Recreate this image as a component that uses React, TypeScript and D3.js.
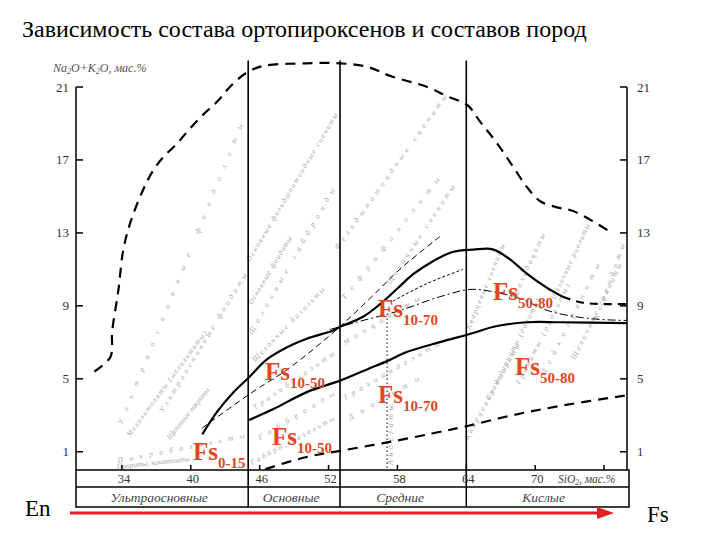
import React from "react";
import * as d3 from "d3";

// ---------- data ----------
const TITLE = "Зависимость состава ортопироксенов и составов пород";
const SIO2_TICKS = [34, 40, 46, 52, 58, 64, 70, 76];
const SIO2_LABELS = ["34", "40", "46", "52", "58", "64", "70", ""];
const ALK_TICKS = [1, 5, 9, 13, 17, 21];
const GROUP_NAMES = ["Ультраосновные", "Основные", "Средние", "Кислые"];
const GROUP_EDGES = [30, 45, 53, 64, 78];
const DIVIDERS = [45, 53, 64];
const ANDESITE_SIO2 = 57.1;

// outer dashed envelope
const envelopeSiO2 = [31.6, 33.0, 33.15, 33.7, 34.1, 34.7, 35.8, 36.7, 37.6, 38.8, 39.9, 41.1, 42.3, 43.4, 44.9, 46.3, 50.1, 53.0, 55.4, 57.4, 60.6, 62.3, 64.1, 65.2, 66.7, 68.1, 69.3, 70.4, 71.9, 73.3, 75.0, 76.8];
const envelopeAlk = [5.4, 6.2, 7.6, 9.9, 12.0, 13.5, 15.3, 16.4, 17.15, 17.9, 18.7, 19.5, 20.2, 21.0, 21.8, 22.15, 22.3, 22.3, 22.1, 21.6, 21.0, 20.5, 20.0, 19.1, 17.9, 16.6, 15.5, 14.75, 14.4, 14.2, 13.65, 12.95];

// lower dashed boundary
const lowerDashSiO2 = [46.5, 50, 53, 57, 61, 64, 68, 72.5, 78];
const lowerDashAlk = [0.05, 0.7, 1.05, 1.5, 2.0, 2.4, 3.0, 3.55, 4.1];

// upper solid boundary
const upperSolidSiO2 = [41.0, 42.3, 43.7, 45.1, 46.6, 48.6, 50.1, 52.4, 53.0, 55.0, 56.5, 58.0, 59.4, 61.1, 62.8, 64.6, 66.3, 67.8, 69.3, 71.0, 72.4];
const upperSolidAlk = [1.95, 3.2, 4.25, 5.1, 6.05, 6.8, 7.2, 7.65, 7.85, 8.4, 9.1, 9.95, 10.75, 11.45, 11.95, 12.08, 12.1, 11.55, 10.75, 10.0, 9.5];
const upperTailSiO2 = [72.4, 73.9, 75.6, 78];
const upperTailAlk = [9.5, 9.2, 9.1, 9.1];

// lower solid boundary
const lowerSolidSiO2 = [45.07, 47.2, 50.1, 53.0, 55.4, 57.1, 58.8, 61.7, 64.6, 66.3, 69.3, 72.2, 78];
const lowerSolidAlk = [2.74, 3.34, 4.27, 4.9, 5.53, 5.97, 6.47, 7.01, 7.51, 7.84, 8.1, 8.1, 8.05];

// thin dashed line
const thinDashSiO2 = [41.0, 45.2, 48.6, 52.7, 55.6, 58.2, 61.7];
const thinDashAlk = [2.3, 4.2, 5.6, 7.7, 9.4, 11.0, 12.8];

// dash-dot line
const dashDotSiO2 = [52.1, 55.0, 58.0, 61.7, 64.3, 66.1, 68.7, 71.3, 74.8, 78];
const dashDotAlk = [7.7, 8.2, 8.7, 9.5, 9.9, 9.8, 9.4, 8.7, 8.3, 8.2];

// fine dashed segment
const fineDashSiO2 = [57.6, 60.5, 63.7];
const fineDashAlk = [9.26, 10.2, 11.0];

// red Fs labels
const fsSubs = ["0-15", "10-50", "10-50", "10-70", "10-70", "50-80", "50-80"];
const fsSiO2 = [40.19, 46.46, 47.07, 56.31, 56.31, 66.33, 68.24];
const fsAlk = [0.55, 4.93, 1.37, 8.39, 3.67, 9.32, 5.21];

// faint rock-field names (start and end of each text run)
const fieldNames = [
  "Ультраосновные фоидолиты",
  "Мелилитолиты (мелилититы)",
  "Ультраосновные фоидиты",
  "Щелочные пикриты",
  "Пикробазальты",
  "Пикриты, коматииты",
  "Основные фельдшпатоидные сиениты",
  "Основные фоидиты",
  "Щелочные габброиды",
  "Щелочные базальты",
  "Трахибазальты",
  "Габброиды",
  "Габбро, базальты",
  "Фельдшпатоидные сиениты",
  "Тефрифонолиты",
  "Щелочные сиениты",
  "Монцониты",
  "Трахиандезиты",
  "Диориты",
  "Андезиты",
  "Кварцевые диориты",
  "Гранодиориты (дациты)",
  "Граниты (риолиты)",
  "Лейкограниты",
  "Щелочные граниты",
  "Кварцевые сиениты",
  "Трахидациты",
  "Щелочные риолиты",
  "Комендиты",
];
const fieldFromSiO2 = [34.0, 34.7, 37.58, 38.19, 33.66, 33.57, 45.16, 45.33, 45.33, 45.59, 45.59, 46.03, 45.33, 52.82, 53.43, 57.35, 53.43, 53.43, 53.87, 57.62, 64.15, 66.07, 68.68, 70.86, 73.47, 64.32, 68.24, 71.73, 75.47];
const fieldFromAlk = [2.47, 1.81, 3.13, 1.64, 0.38, 0.05, 11.4, 9.05, 7.4, 5.92, 3.29, 1.64, 0.27, 12.06, 9.32, 10.14, 6.85, 3.84, 2.74, 0.27, 1.64, 3.84, 4.66, 5.21, 6.03, 7.68, 9.32, 9.32, 8.22];
const fieldToSiO2 = [44.55, 41.41, 44.9, 41.67, 44.72, 39.93, 52.82, 48.82, 52.56, 51.69, 52.56, 52.56, 52.56, 62.32, 61.71, 63.0, 59.97, 61.71, 59.97, 57.62, 68.68, 70.42, 73.03, 75.65, 77.56, 67.37, 70.86, 74.78, 77.83];
const fieldToAlk = [18.92, 7.51, 10.69, 4.39, 1.75, 0.49, 19.47, 12.72, 15.35, 9.87, 6.31, 4.11, 2.74, 20.45, 15.9, 15.5, 9.32, 6.85, 4.93, 3.56, 6.85, 9.32, 10.14, 11.24, 11.24, 12.34, 12.89, 13.43, 12.34];

// ---------- drawing ----------
const SERIF = '"Liberation Serif", "Times New Roman", "DejaVu Serif", serif';
const RED = "#e2471f";

export default function App() {
  const x = d3.scaleLinear().domain([30, 78]).range([76, 627]);
  const y = d3.scaleLinear().domain([0, 21]).range([470, 87]);
  const tableBottom = 507;
  const tableMid = 487;
  const tableRight = 629;

  const line = d3
    .line<[number, number]>()
    .x((d) => x(d[0]))
    .y((d) => y(d[1]))
    .curve(d3.curveCatmullRom.alpha(0.5));
  const path = (xs: number[], ys: number[]) =>
    line(xs.map((v, i) => [v, ys[i]] as [number, number])) || "";

  return (
    <svg
      width={720}
      height={540}
      style={{ position: "absolute", left: 0, top: 0, background: "#fff", fontFamily: SERIF }}
    >
      <rect x={0} y={0} width={720} height={540} fill="#fff" />
      <text x={22} y={37} fontSize={24} fill="#000" style={{ fontFamily: SERIF }}>
        {TITLE}
      </text>

      {/* faint field names */}
      <g fill="#a8a8a8" fontStyle="italic" fontSize={7.5} style={{ fontFamily: SERIF }}>
        {fieldNames.map((t, i) => {
          const x1 = x(fieldFromSiO2[i]);
          const y1 = y(fieldFromAlk[i]);
          const x2 = x(fieldToSiO2[i]);
          const y2 = y(fieldToAlk[i]);
          const ang = (Math.atan2(y2 - y1, x2 - x1) * 180) / Math.PI;
          const len = Math.hypot(x2 - x1, y2 - y1);
          return (
            <text
              key={i}
              transform={`translate(${x1},${y1}) rotate(${ang})`}
              textLength={len}
              lengthAdjust="spacing"
            >
              {t}
            </text>
          );
        })}
      </g>

      {/* axis title */}
      <text x={53} y={72} fontSize={12} fontStyle="italic" fill="#555" style={{ fontFamily: SERIF }}>
        Na<tspan fontSize={8} dy={2}>2</tspan>
        <tspan dy={-2}>O+K</tspan>
        <tspan fontSize={8} dy={2}>2</tspan>
        <tspan dy={-2}>O, мас.%</tspan>
      </text>

      {/* left & right axes */}
      <g stroke="#000" strokeWidth={1.5}>
        <line x1={x(30)} x2={x(30)} y1={y(21)} y2={y(0)} />
        <line x1={x(78)} x2={x(78)} y1={y(21)} y2={y(0)} />
        {ALK_TICKS.map((t) => (
          <g key={t}>
            <line x1={x(30)} x2={x(30) + 7} y1={y(t)} y2={y(t)} />
            <line x1={x(78) - 7} x2={x(78)} y1={y(t)} y2={y(t)} />
          </g>
        ))}
      </g>
      <g fontSize={13} fill="#333" style={{ fontFamily: SERIF }}>
        {ALK_TICKS.map((t) => (
          <g key={t}>
            <text x={69} y={y(t) + 4.5} textAnchor="end">
              {t}
            </text>
            <text x={637} y={y(t) + 4.5}>
              {t}
            </text>
          </g>
        ))}
      </g>

      {/* group dividers */}
      <g stroke="#000" strokeWidth={1.6}>
        {DIVIDERS.map((d) => (
          <line key={d} x1={x(d)} x2={x(d)} y1={y(22.45)} y2={tableMid} />
        ))}
      </g>
      <line
        x1={x(ANDESITE_SIO2)}
        x2={x(ANDESITE_SIO2)}
        y1={y(8.3)}
        y2={y(0)}
        stroke="#333"
        strokeWidth={1.2}
        strokeDasharray="1.5,2.5"
      />

      {/* boundary curves */}
      <g fill="none" stroke="#000">
        <path d={path(envelopeSiO2, envelopeAlk)} strokeWidth={2.2} strokeDasharray="10,7" />
        <path d={path(lowerDashSiO2, lowerDashAlk)} strokeWidth={2.2} strokeDasharray="10,7" />
        <path d={path(upperSolidSiO2, upperSolidAlk)} strokeWidth={2.2} />
        <path d={path(upperTailSiO2, upperTailAlk)} strokeWidth={2.2} strokeDasharray="8,6" />
        <path d={path(lowerSolidSiO2, lowerSolidAlk)} strokeWidth={2.2} />
        <path d={path(thinDashSiO2, thinDashAlk)} strokeWidth={1} strokeDasharray="6,4" />
        <path d={path(dashDotSiO2, dashDotAlk)} strokeWidth={1} strokeDasharray="8,3,2,3" />
        <path d={path(fineDashSiO2, fineDashAlk)} strokeWidth={1} strokeDasharray="3,2" />
      </g>

      {/* red Fs labels */}
      <g fill={RED} fontWeight="bold" style={{ fontFamily: SERIF }}>
        {fsSubs.map((s, i) => (
          <text key={i} x={x(fsSiO2[i])} y={y(fsAlk[i])} fontSize={25}>
            Fs
            <tspan fontSize={15} dy={8}>
              {s}
            </tspan>
          </text>
        ))}
      </g>

      {/* bottom table */}
      <g stroke="#000" strokeWidth={1.5} fill="none">
        <rect x={x(30)} y={y(0)} width={tableRight - x(30)} height={tableBottom - y(0)} />
        <line x1={x(30)} x2={tableRight} y1={tableMid} y2={tableMid} />
        {SIO2_TICKS.map((t) => (
          <line key={t} x1={x(t)} x2={x(t)} y1={y(0) - 5} y2={y(0)} />
        ))}
        {DIVIDERS.map((d) => (
          <line key={d} x1={x(d)} x2={x(d)} y1={tableMid} y2={tableBottom} />
        ))}
      </g>
      <g fontSize={12.5} fill="#333" textAnchor="middle" style={{ fontFamily: SERIF }}>
        {SIO2_TICKS.map((t, i) => (
          <text key={t} x={x(t) + 2} y={483}>
            {SIO2_LABELS[i]}
          </text>
        ))}
      </g>
      <text x={558} y={483} fontSize={11.5} fontStyle="italic" fill="#444" style={{ fontFamily: SERIF }}>
        SiO<tspan fontSize={7.5} dy={2}>2</tspan>
        <tspan dy={-2}>, мас.%</tspan>
      </text>
      <g fontSize={13.5} fontStyle="italic" fill="#444" textAnchor="middle" style={{ fontFamily: SERIF }}>
        {GROUP_NAMES.map((g, i) => (
          <text key={g} x={(x(GROUP_EDGES[i]) + x(GROUP_EDGES[i + 1])) / 2 - 3} y={502}>
            {g}
          </text>
        ))}
      </g>

      {/* En -> Fs arrow */}
      <line x1={70} x2={600} y1={513} y2={513} stroke="#e41e26" strokeWidth={3} />
      <polygon points="597,507 614,513 597,519" fill="#e41e26" />
      <text x={25} y={516} fontSize={23} fill="#000" style={{ fontFamily: SERIF }}>
        En
      </text>
      <text x={647} y={522} fontSize={23} fill="#000" style={{ fontFamily: SERIF }}>
        Fs
      </text>
    </svg>
  );
}
